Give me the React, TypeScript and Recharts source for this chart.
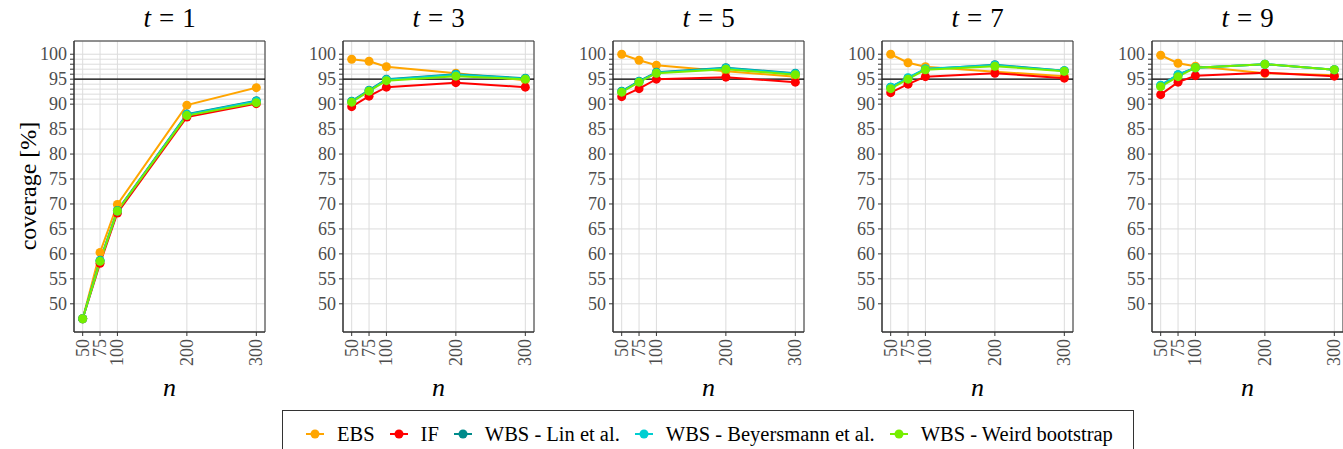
import React from 'react'
import { LineChart, Line, XAxis, YAxis, CartesianGrid, ReferenceLine, ReferenceArea } from 'recharts';

const N_VALUES = [50, 75, 100, 200, 300];
const T_LABELS = ['1', '3', '5', '7', '9'];
const Y_TICKS = [50, 55, 60, 65, 70, 75, 80, 85, 90, 91, 92, 93, 94, 95, 96, 97, 98, 99, 100];

// one row per panel (t = 1, 3, 5, 7, 9), one value per n
const EBS = [
    [47.0, 60.3, 69.9, 89.8, 93.3],
    [99.0, 98.6, 97.5, 96.2, 94.8],
    [100.0, 98.8, 97.8, 96.6, 95.5],
    [100.0, 98.3, 97.5, 96.5, 95.6],
    [99.8, 98.2, 97.6, 96.2, 95.8],
];
const IF = [
    [47.0, 58.1, 68.2, 87.4, 90.1],
    [89.5, 91.6, 93.4, 94.3, 93.4],
    [91.5, 93.1, 95.0, 95.4, 94.4],
    [92.3, 94.0, 95.5, 96.2, 95.2],
    [91.9, 94.4, 95.7, 96.3, 95.6],
];
const WBS_LIN = [
    [47.0, 58.7, 68.7, 88.0, 90.7],
    [90.6, 92.8, 95.0, 96.0, 95.2],
    [92.6, 94.6, 96.4, 97.3, 96.2],
    [93.4, 95.2, 97.0, 97.9, 96.7],
    [93.7, 95.9, 97.3, 98.0, 96.9],
];
const WBS_BEYERSMANN = [
    [47.0, 58.6, 68.6, 87.9, 90.6],
    [90.5, 92.7, 94.9, 95.9, 95.1],
    [92.5, 94.5, 96.3, 97.2, 96.1],
    [93.4, 95.3, 97.1, 97.8, 96.7],
    [93.8, 95.9, 97.3, 98.0, 96.9],
];
const WBS_WEIRD = [
    [47.0, 58.5, 68.6, 87.7, 90.3],
    [90.4, 92.6, 94.7, 95.6, 95.0],
    [92.4, 94.4, 96.2, 97.0, 95.9],
    [93.1, 95.0, 96.9, 97.6, 96.6],
    [93.5, 95.5, 97.3, 98.0, 96.9],
];

const SERIES = [
    { key: 'EBS', label: 'EBS', color: '#FFA500', values: EBS },
    { key: 'IF', label: 'IF', color: '#FF0000', values: IF },
    { key: 'LIN', label: 'WBS - Lin et al.', color: '#008B8B', values: WBS_LIN },
    { key: 'BEY', label: 'WBS - Beyersmann et al.', color: '#00CED1', values: WBS_BEYERSMANN },
    { key: 'WEIRD', label: 'WBS - Weird bootstrap', color: '#76EE00', values: WBS_WEIRD },
];

const FONT = '"Liberation Serif", "Times New Roman", serif';
const BOX_LEFT = [74, 343, 613, 882, 1152];
const BOX_W = 191;
const Y_AXIS_W = 50;
const X_DOMAIN = [37.5, 312.5];
const Y_DOMAIN = [44.35, 102.65];

const XTick = ({ x, y, payload }) => (
    <text x={x} y={y} transform={`rotate(-90 ${x} ${y})`} textAnchor="end" dominantBaseline="central"
        fill="#4D4D4D" fontSize={18} fontFamily={FONT}>
        {payload.value}
    </text>
);

const YTick = ({ x, y, payload }) => {
    if (payload.value % 5 !== 0) return <g />;
    return (
        <text x={x} y={y} textAnchor="end" dominantBaseline="central" fill="#4D4D4D" fontSize={18} fontFamily={FONT}>
            {payload.value}
        </text>
    );
};

const Panel = ({ idx }) => {
    const data = N_VALUES.map((n, i) => {
        const row = { n };
        SERIES.forEach(s => { row[s.key] = s.values[idx][i]; });
        return row;
    });
    return (
        <div style={{ position: 'absolute', left: BOX_LEFT[idx] - Y_AXIS_W, top: 0 }}>
            <LineChart width={Y_AXIS_W + BOX_W + 1} height={400} data={data}
                margin={{ top: 41, right: 1, bottom: 8, left: 0 }}>
                <CartesianGrid stroke="#DCDCDC" strokeWidth={1} />
                <XAxis dataKey="n" type="number" domain={X_DOMAIN} ticks={N_VALUES} height={60}
                    tick={XTick} tickSize={4} tickMargin={3} interval={0}
                    axisLine={{ stroke: '#333' }} tickLine={{ stroke: '#333' }} allowDataOverflow />
                <YAxis type="number" domain={Y_DOMAIN} ticks={Y_TICKS} width={Y_AXIS_W} interval={0}
                    tick={YTick} tickSize={4} tickMargin={3}
                    axisLine={{ stroke: '#333' }} tickLine={{ stroke: '#333' }} allowDataOverflow />
                <ReferenceArea x1={X_DOMAIN[0]} x2={X_DOMAIN[1]} y1={Y_DOMAIN[0]} y2={Y_DOMAIN[1]}
                    fill="none" fillOpacity={0} stroke="#333" strokeWidth={1} ifOverflow="visible" />
                <ReferenceLine y={95} stroke="#000" strokeWidth={1.2} />
                {SERIES.map(s => (
                    <Line key={s.key} dataKey={s.key} stroke={s.color} strokeWidth={2}
                        dot={{ r: 4.5, fill: s.color, stroke: s.color, strokeWidth: 0 }}
                        activeDot={false} isAnimationActive={false} />
                ))}
            </LineChart>
        </div>
    );
};

const LegendMarker = ({ color }) => (
    <svg width={20} height={12} style={{ display: 'block' }}>
        <line x1={1} y1={6} x2={19} y2={6} stroke={color} strokeWidth={2} />
        <circle cx={10} cy={6} r={4.5} fill={color} />
    </svg>
);

export default function App() {
    return (
        <div style={{ position: 'absolute', left: 0, top: 0, width: 1343, height: 449, background: '#fff', overflow: 'hidden' }}>
            {T_LABELS.map((_, i) => <Panel key={i} idx={i} />)}
            <svg width={1343} height={449} style={{ position: 'absolute', left: 0, top: 0, pointerEvents: 'none' }}>
                {T_LABELS.map((t, i) => (
                    <text key={t} x={BOX_LEFT[i] + BOX_W / 2} y={27} textAnchor="middle" fontSize={27} fontFamily={FONT} fill="#000">
                        <tspan fontStyle="italic">t</tspan>
                        <tspan dx={8}>=</tspan>
                        <tspan dx={8}>{t}</tspan>
                    </text>
                ))}
                {T_LABELS.map((t, i) => (
                    <text key={'n' + t} x={BOX_LEFT[i] + BOX_W / 2} y={396} textAnchor="middle" fontSize={26} fontStyle="italic" fontFamily={FONT} fill="#000">
                        n
                    </text>
                ))}
                <text x={36} y={186} transform="rotate(-90 36 186)" textAnchor="middle" fontSize={24} fontFamily={FONT} fill="#000">
                    coverage [%]
                </text>
            </svg>
            <div style={{
                position: 'absolute', left: 282, top: 410, width: 852, height: 60, boxSizing: 'border-box',
                border: '1px solid #333', display: 'flex', alignItems: 'flex-start', paddingLeft: 22, paddingTop: 12,
                fontFamily: FONT, fontSize: 20.5, color: '#000'
            }}>
                {SERIES.map(s => (
                    <div key={s.key} style={{ display: 'flex', alignItems: 'center', marginRight: 14 }}>
                        <LegendMarker color={s.color} />
                        <span style={{ marginLeft: 12, lineHeight: '22px' }}>{s.label}</span>
                    </div>
                ))}
            </div>
        </div>
    );
}
